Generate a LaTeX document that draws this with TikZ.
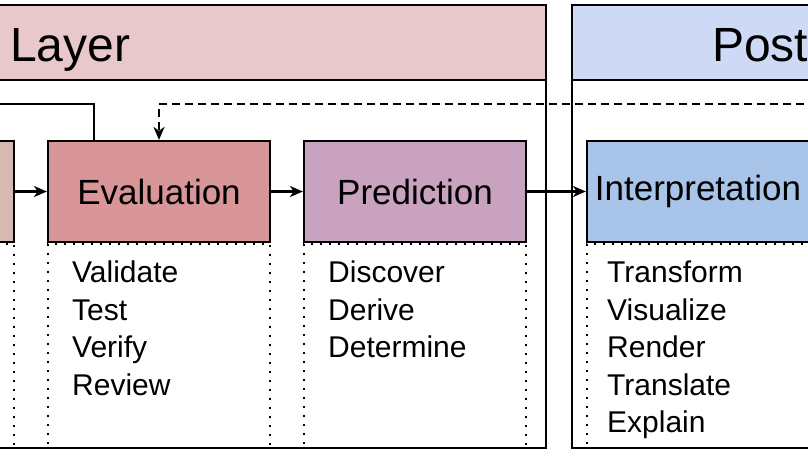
\documentclass[tikz,border=0pt]{standalone}
\usepackage{fontspec}
\setmainfont{Liberation Sans}
\usetikzlibrary{arrows.meta}

\begin{document}
\begin{tikzpicture}[x=1pt,y=1pt,yscale=-1,
  frame/.style={draw={rgb, 255:red, 0; green, 0; blue, 0 },line width=2.4pt},
  stagebox/.style={draw={rgb, 255:red, 0; green, 0; blue, 0 },line width=2.2pt,minimum width=222pt,minimum height=101pt,inner sep=0pt,font=\fontsize{35}{42}\selectfont},
  listbox/.style={draw={rgb, 255:red, 0; green, 0; blue, 0 },line width=2pt,dash pattern=on 2pt off 7pt,minimum width=222pt,minimum height=204pt,inner sep=0pt,anchor=north},
  listtext/.style={anchor=north west,align=left,inner sep=0pt,font=\fontsize{30}{37.5}\selectfont},
  titletext/.style={anchor=base west,inner sep=0pt,font=\fontsize{48}{56}\selectfont},
  flow/.style={line width=2.2pt,-{Stealth[length=13pt,width=11pt,inset=4pt]}}]
\clip (0,0) rectangle (808,455);

%Shape: Layer frame
\draw[frame] (-20,5) rectangle (546,448);
\draw[frame,fill={rgb, 255:red, 232; green, 200; blue, 203 }] (-20,5) rectangle (546,80);
\node[titletext] (layerT) at (10,61) {Layer};
%Shape: Post frame
\draw[frame] (572,5) rectangle (830,448);
\draw[frame,fill={rgb, 255:red, 205; green, 217; blue, 245 }] (572,5) rectangle (830,80);
\node[titletext] (postT) at (712,61) {Post};

%Shape: Stage boxes
\node[stagebox,fill={rgb, 255:red, 217; green, 183; blue, 178 }] (prep) at (-97,191.5) {};
\node[stagebox,fill={rgb, 255:red, 216; green, 150; blue, 152 }] (eval) at (159,191.5) {Evaluation};
\node[stagebox,fill={rgb, 255:red, 200; green, 162; blue, 190 }] (pred) at (415,191.5) {Prediction};
\node[stagebox,fill={rgb, 255:red, 168; green, 196; blue, 232 }] (interp) at (698,191.5) {Interpretation};

%Shape: Dotted lists
\node[listbox] (prepL) at (prep.south) {};
\node[listbox] (evalL) at (eval.south) {};
\node[listbox] (predL) at (pred.south) {};
\node[listbox] (interpL) at (interp.south) {};

% Text Node
\node[listtext] (evalT) at (72,261) {Validate\\Test\\Verify\\Review};
\node[listtext] (predT) at (328,261) {Discover\\Derive\\Determine};
\node[listtext] (interpT) at (607,261) {Transform\\Visualize\\Render\\Translate\\Explain};

%Straight Lines
\draw[flow] (prep.east) -- (eval.west);
\draw[flow] (eval.east) -- (pred.west);
\draw[flow] (pred.east) -- (interp.west);

%Feedback lines
\coordinate (fbIn) at (-20,104);
\coordinate (fbOut) at (830,104);
\draw[line width=2.2pt] ([xshift=-65pt]eval.north) |- (fbIn);
\draw[flow,dash pattern=on 8pt off 5pt] (fbOut) -| (eval.north);

\end{tikzpicture}
\end{document}
